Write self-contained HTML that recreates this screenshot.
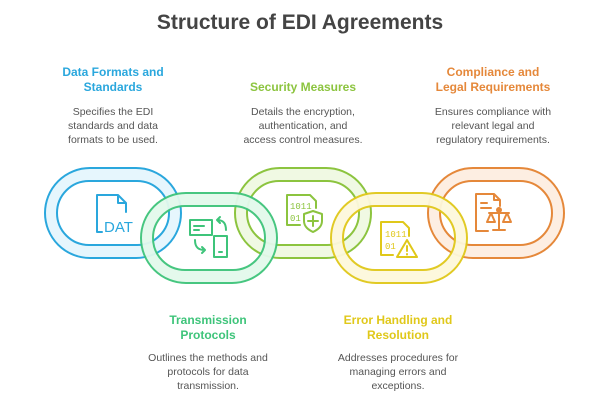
<!DOCTYPE html>
<html><head><meta charset="utf-8"><style>
body{margin:0;background:#fff;font-family:"Liberation Sans",sans-serif;}
.wrap{position:relative;width:600px;height:400px;overflow:hidden;}
.t{position:absolute;text-align:center;white-space:nowrap;}
.h{font-weight:bold;font-size:12px;line-height:15px;}
.d{font-size:10.5px;line-height:14px;color:#555;}
</style></head><body><div class="wrap">
<div class="t" style="left:0;width:600px;top:11px;font-size:21px;font-weight:bold;color:#444;">Structure of EDI Agreements</div>

<div class="t h" style="left:33px;width:160px;top:65px;color:#2aa7dd;">Data Formats and<br>Standards</div>
<div class="t d" style="left:33px;width:160px;top:105px;">Specifies the EDI<br>standards and data<br>formats to be used.</div>

<div class="t h" style="left:223px;width:160px;top:80px;color:#8cc43f;">Security Measures</div>
<div class="t d" style="left:223px;width:160px;top:105px;">Details the encryption,<br>authentication, and<br>access control measures.</div>

<div class="t h" style="left:413px;width:160px;top:65px;color:#e5883a;">Compliance and<br>Legal Requirements</div>
<div class="t d" style="left:413px;width:160px;top:105px;">Ensures compliance with<br>relevant legal and<br>regulatory requirements.</div>

<div class="t h" style="left:128px;width:160px;top:313px;color:#3ec47a;">Transmission<br>Protocols</div>
<div class="t d" style="left:128px;width:160px;top:351px;">Outlines the methods and<br>protocols for data<br>transmission.</div>

<div class="t h" style="left:318px;width:160px;top:313px;color:#e0c81a;">Error Handling and<br>Resolution</div>
<div class="t d" style="left:318px;width:160px;top:351px;">Addresses procedures for<br>managing errors and<br>exceptions.</div>

<svg width="600" height="400" style="position:absolute;left:0;top:0" fill="none" stroke-width="2" stroke-linecap="round" stroke-linejoin="round">
<defs>
<g id="ring">
<path d="M-23,-45 H23 A45,45 0 0 1 23,45 H-23 A45,45 0 0 1 -23,-45 Z M-24,-32 A32,32 0 0 0 -24,32 H24 A32,32 0 0 0 24,-32 Z" fill-rule="evenodd"/>
</g>
</defs>
<g transform="translate(113,213)" fill="#e6f6fd" stroke="#2aa7dd"><use href="#ring"/></g>
<g transform="translate(303,213)" fill="#f0f9e3" stroke="#8cc43f"><use href="#ring"/></g>
<g transform="translate(496,213)" fill="#fdeee2" stroke="#e5883a"><use href="#ring"/></g>
<g transform="translate(209,238)" fill="#e3f9ec" stroke="#3ec47a" opacity="0.95"><use href="#ring"/></g>
<g transform="translate(399,238)" fill="#fdf8dc" stroke="#e0c81a" opacity="0.95"><use href="#ring"/></g>

<g stroke="#2aa7dd">
<path d="M97,195 H118 L126,203 V212 M118,195 V203 H126 M97,195 V232 H102"/>
</g>
<text x="104" y="232" font-family="Liberation Sans" font-size="15" fill="#2aa7dd" stroke="none">DAT</text>
<g stroke="#3ec47a">
<rect x="190" y="220" width="22" height="15"/><path d="M194,226 H204 M194,230 H199"/>
<rect x="214" y="236" width="13" height="21"/><path d="M219,252 H222"/>
<path d="M226,230 C226,222 222,220 217,220 M217,220 L220,217 M217,220 L220,223"/>
<path d="M195,240 C195,248 199,250 205,250 M205,250 L202,247 M205,250 L202,253"/>
</g>
<g stroke="#8cc43f">
<path d="M300,225 H287 V195 H310 L316,201 V208"/>
<text x="290" y="209" font-family="Liberation Mono" font-size="9" fill="#8cc43f" stroke="none">1011</text>
<text x="290" y="221" font-family="Liberation Mono" font-size="9" fill="#8cc43f" stroke="none">01</text>
<path d="M313,211 L322,214 V221 C322,227 317,230 313,232 C309,230 304,227 304,221 V214 Z M313,216 V226 M308,221 H318"/>
</g>
<g stroke="#e0c81a">
<path d="M393,255 H381 V222 H403 L409,228 V236"/>
<text x="385" y="237" font-family="Liberation Mono" font-size="9" fill="#e0c81a" stroke="none">1011</text>
<text x="385" y="249" font-family="Liberation Mono" font-size="9" fill="#e0c81a" stroke="none">01</text>
<path d="M407,240 L417,257 H397 Z M407,246 V251 M407,254 V254.5"/>
</g>
<g stroke="#e5883a">
<path d="M488,231 H476 V194 H494 L500,200 V206 M494,194 V200 H500 M481,203 H487 M481,208 H491"/>
<path d="M499,208 V230 M493,230 H505 M489,213 H509 M491,213 L487,222 H495 Z M507,213 L503,222 H511 Z"/>
<circle cx="499" cy="210" r="2"/>
</g>
</svg>
</div></body></html>
